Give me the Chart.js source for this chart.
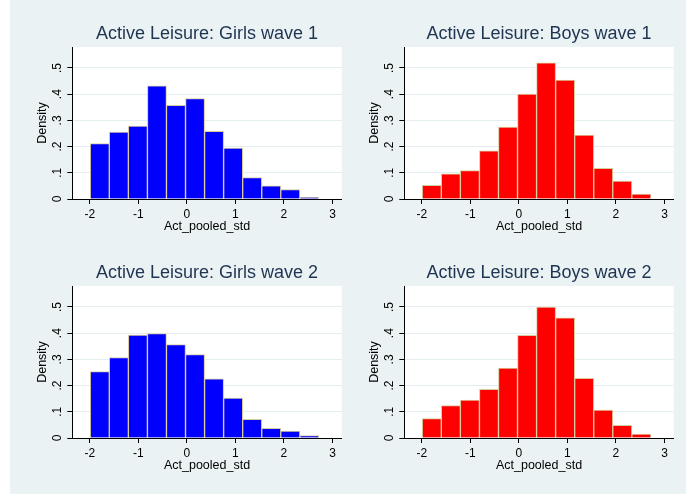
<!DOCTYPE html>
<html><head><meta charset="utf-8">
<script src="https://cdn.jsdelivr.net/npm/chart.js@4/dist/chart.umd.min.js"></script>
<style>
html,body{margin:0;padding:0;background:#fff;width:686px;height:495px;overflow:hidden;}
#bg{position:absolute;left:10px;top:0;width:676px;height:494px;background:#eaf2f3;}
.p{position:absolute;width:330px;height:240px;}
canvas{display:block;}
</style></head><body>
<div id="bg"></div>
<div class="p" style="left:20px;top:5px"><canvas id="c1" width="330" height="240"></canvas></div>
<div class="p" style="left:352px;top:5px"><canvas id="c2" width="330" height="240"></canvas></div>
<div class="p" style="left:20px;top:244px"><canvas id="c3" width="330" height="240"></canvas></div>
<div class="p" style="left:352px;top:244px"><canvas id="c4" width="330" height="240"></canvas></div>
<script>
// ---- data ----
const binCenters = [-1.794, -1.401, -1.009, -0.616, -0.224, 0.169, 0.561, 0.954, 1.346, 1.739, 2.131, 2.524];
const girlsWave1 = [0.211, 0.255, 0.278, 0.432, 0.357, 0.383, 0.258, 0.194, 0.082, 0.050, 0.036, 0.006];
const boysWave1  = [0.052, 0.096, 0.108, 0.184, 0.274, 0.400, 0.520, 0.454, 0.244, 0.117, 0.068, 0.019];
const girlsWave2 = [0.253, 0.307, 0.393, 0.398, 0.356, 0.318, 0.226, 0.152, 0.071, 0.037, 0.026, 0.009];
const boysWave2  = [0.074, 0.124, 0.145, 0.186, 0.267, 0.392, 0.500, 0.459, 0.228, 0.107, 0.048, 0.015];
const xTicks = [-2, -1, 0, 1, 2, 3];
const yTicks = [0, 0.1, 0.2, 0.3, 0.4, 0.5];
const yTickLabels = ['0', '.1', '.2', '.3', '.4', '.5'];
const panelTitles = ['Active Leisure: Girls wave 1', 'Active Leisure: Boys wave 1', 'Active Leisure: Girls wave 2', 'Active Leisure: Boys wave 2'];
const xTitle = 'Act_pooled_std';
const yTitle = 'Density';

const FONT = 'Liberation Sans, Arial, Helvetica, sans-serif';
const plotBg = {
  id: 'plotBg',
  beforeDraw(chart) {
    const {ctx, chartArea: a} = chart;
    ctx.save();
    ctx.fillStyle = '#ffffff';
    ctx.fillRect(a.left, a.top, a.right - a.left, a.bottom - a.top);
    ctx.restore();
  }
};

function makeChart(id, title, values, color) {
  new Chart(document.getElementById(id), {
    type: 'bar',
    data: {
      datasets: [{
        data: binCenters.map((x, i) => ({x: x, y: values[i]})),
        backgroundColor: color,
        borderColor: '#d8ca9c',
        borderWidth: 1,
        barPercentage: 1,
        categoryPercentage: 1
      }]
    },
    options: {
      responsive: false,
      devicePixelRatio: 1,
      animation: false,
      layout: {padding: {left: 0, right: 8.3, top: 0, bottom: 0}},
      plugins: {
        legend: {display: false},
        tooltip: {enabled: false},
        title: {
          display: true, text: title, color: '#1e3452', fullSize: false, align: 'center',
          font: {family: FONT, size: 18, weight: 'normal', lineHeight: 1.2},
          padding: {top: 18, bottom: 2.4}
        }
      },
      scales: {
        x: {
          type: 'linear', min: -2.36, max: 3.19, offset: false,
          afterBuildTicks: (s) => { s.ticks = xTicks.map(v => ({value: v})); },
          afterFit: (s) => { s.height = 46; },
          grid: {display: true, drawOnChartArea: false, offset: false, tickLength: 5, tickColor: '#000', color: '#000'},
          border: {display: true, color: '#000', width: 1},
          ticks: {color: '#000', font: {family: FONT, size: 12}, padding: 3, maxRotation: 0, autoSkip: false,
                  callback: (v) => String(v)},
          title: {display: true, text: xTitle, color: '#000', font: {family: FONT, size: 12.5, lineHeight: 1.2},
                  padding: {top: 0, bottom: 10.5}}
        },
        y: {
          type: 'linear', min: 0, max: 0.58,
          afterBuildTicks: (s) => { s.ticks = yTicks.map(v => ({value: v})); },
          afterFit: (s) => { s.width = 52.3; },
          grid: {display: true, drawOnChartArea: true, tickLength: 5, tickColor: '#000',
                 color: (c) => (c.tick && c.tick.value === 0) ? 'rgba(0,0,0,0)' : '#e4eef0', lineWidth: 1},
          border: {display: true, color: '#000', width: 1},
          ticks: {color: '#000', font: {family: FONT, size: 12}, padding: 4.3, minRotation: 90, maxRotation: 90,
                  crossAlign: 'center', autoSkip: false,
                  callback: (v, i) => yTickLabels[i]},
          title: {display: true, text: yTitle, color: '#000', font: {family: FONT, size: 12.5, lineHeight: 1.2},
                  padding: {top: 14.9, bottom: 0}}
        }
      }
    },
    plugins: [plotBg]
  });
}

makeChart('c1', panelTitles[0], girlsWave1, '#0000ff');
makeChart('c2', panelTitles[1], boysWave1, '#ff0000');
makeChart('c3', panelTitles[2], girlsWave2, '#0000ff');
makeChart('c4', panelTitles[3], boysWave2, '#ff0000');
</script>
</body></html>
